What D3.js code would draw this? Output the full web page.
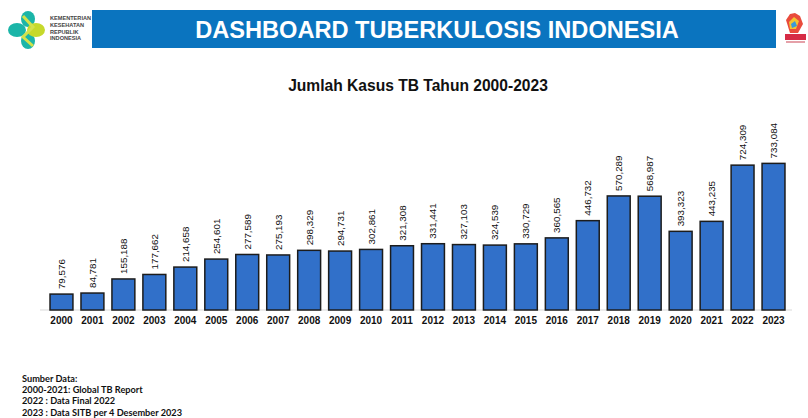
<!DOCTYPE html>
<html>
<head>
<meta charset="utf-8">
<script src="https://cdn.jsdelivr.net/npm/d3@7"></script>
<style>
  body { margin: 0; background: #fff; }
  svg { display: block; font-family: Arial, "Liberation Sans", sans-serif; }
</style>
</head>
<body>
<div id="chart"></div>
<script>
// data
const years = ["2000", "2001", "2002", "2003", "2004", "2005", "2006", "2007", "2008", "2009", "2010", "2011",
  "2012", "2013", "2014", "2015", "2016", "2017", "2018", "2019", "2020", "2021", "2022", "2023"];
const cases = [79576, 84781, 155188, 177662, 214658, 254601, 277589, 275193, 298329, 294731, 302861, 321308,
  331441, 327103, 324539, 330729, 360565, 446732, 570289, 568987, 393323, 443235, 724309, 733084];
const sourceLines = ["Sumber Data:", "2000-2021:  Global TB Report", "2022 : Data Final 2022", "2023 : Data SITB per 4 Desember 2023"];
const logoLines = ["KEMENTERIAN", "KESEHATAN", "REPUBLIK", "INDONESIA"];

const W = 808, H = 418;
const svg = d3.select("#chart").append("svg")
  .attr("width", W)
  .attr("height", H);

// header banner
svg.append("rect")
  .attr("x", 92).attr("y", 10)
  .attr("width", 684).attr("height", 38)
  .attr("fill", "#0a74bf");
svg.append("text")
  .attr("x", 437).attr("y", 38)
  .attr("text-anchor", "middle")
  .attr("fill", "#fff")
  .style("font-size", "23.6px")
  .style("font-weight", "bold")
  .text("DASHBOARD TUBERKULOSIS INDONESIA");

// kemenkes logo (rough)
const logo = svg.append("g").attr("transform", "translate(28,30)");
logo.append("ellipse").attr("cx", -11).attr("cy", 0).attr("rx", 9).attr("ry", 7).attr("fill", "#1bb5a8");
logo.append("ellipse").attr("cx", 0).attr("cy", -11).attr("rx", 7).attr("ry", 8).attr("fill", "#1bb5a8");
logo.append("ellipse").attr("cx", 0).attr("cy", 11).attr("rx", 7).attr("ry", 8).attr("fill", "#1bb5a8");
logo.append("ellipse").attr("cx", 8).attr("cy", 0).attr("rx", 9).attr("ry", 7).attr("fill", "#c6d92b");
logo.append("path").attr("d", "M-5,-14 L5,-3 L-5,7 L5,16").attr("stroke", "#d3e24a").attr("stroke-width", 3).attr("fill", "none");
svg.append("g").selectAll("text")
  .data(logoLines)
  .join("text")
  .attr("x", 50)
  .attr("y", (d, i) => 20 + i * 6.8)
  .attr("fill", "#444")
  .style("font-size", "5.6px")
  .style("font-weight", "bold")
  .text(d => d);

// stop tb logo (rough)
const tb = svg.append("g");
tb.append("path").attr("d", "M786,20 L790,14 L795,13 L800,16 L803,24 L798,33 L790,33 Z").attr("fill", "#e94b3c");
tb.append("path").attr("d", "M789,22 L794,17 L799,21 L796,29 L790,29 Z").attr("fill", "#f4c430");
tb.append("path").attr("d", "M791,24 L795,21 L797,26 L792,28 Z").attr("fill", "#3a9ad9");
tb.append("rect").attr("x", 785).attr("y", 34).attr("width", 21).attr("height", 6).attr("fill", "#d62b45");
tb.append("rect").attr("x", 786).attr("y", 41).attr("width", 19).attr("height", 2).attr("fill", "#e5a0a8");

// chart title
svg.append("text")
  .attr("x", 418).attr("y", 91)
  .attr("text-anchor", "middle")
  .attr("fill", "#111")
  .style("font-size", "15.6px")
  .style("font-weight", "bold")
  .text("Jumlah Kasus TB Tahun 2000-2023");

// scales
const x = d3.scaleBand()
  .domain(years)
  .range([46, 789])
  .paddingInner(0.26)
  .paddingOuter(0.13);
const y = d3.scaleLinear()
  .domain([0, 800000])
  .range([310, 150]);

// baseline
svg.append("line")
  .attr("x1", 40).attr("x2", 792)
  .attr("y1", y(0)).attr("y2", y(0))
  .attr("stroke", "#d9d9d9")
  .attr("stroke-width", 1);

// bars
svg.append("g").selectAll("rect")
  .data(years)
  .join("rect")
  .attr("x", d => x(d))
  .attr("y", (d, i) => y(cases[i]))
  .attr("width", x.bandwidth())
  .attr("height", (d, i) => y(0) - y(cases[i]))
  .attr("fill", "#3170c9")
  .attr("stroke", "#1c1c1c")
  .attr("stroke-width", 1.5);

// value labels
svg.append("g").selectAll("text")
  .data(years)
  .join("text")
  .attr("transform", (d, i) => `translate(${x(d) + x.bandwidth() / 2 + 3.5},${y(cases[i]) - 5})rotate(-90)`)
  .attr("fill", "#111")
  .style("font-size", "9.8px")
  .text((d, i) => d3.format(",")(cases[i]));

// year labels
svg.append("g").selectAll("text")
  .data(years)
  .join("text")
  .attr("x", d => x(d) + x.bandwidth() / 2)
  .attr("y", 324)
  .attr("text-anchor", "middle")
  .attr("fill", "#111")
  .style("font-size", "10px")
  .style("font-weight", "bold")
  .text(d => d);

// source note
svg.append("g").selectAll("text")
  .data(sourceLines)
  .join("text")
  .attr("x", 22)
  .attr("y", (d, i) => 382 + i * 11.2)
  .attr("fill", "#111")
  .style("font-family", "Lato, 'Open Sans', sans-serif")
  .style("font-size", "9.2px")
  .style("font-weight", "bold")
  .text(d => d);
</script>
</body>
</html>
